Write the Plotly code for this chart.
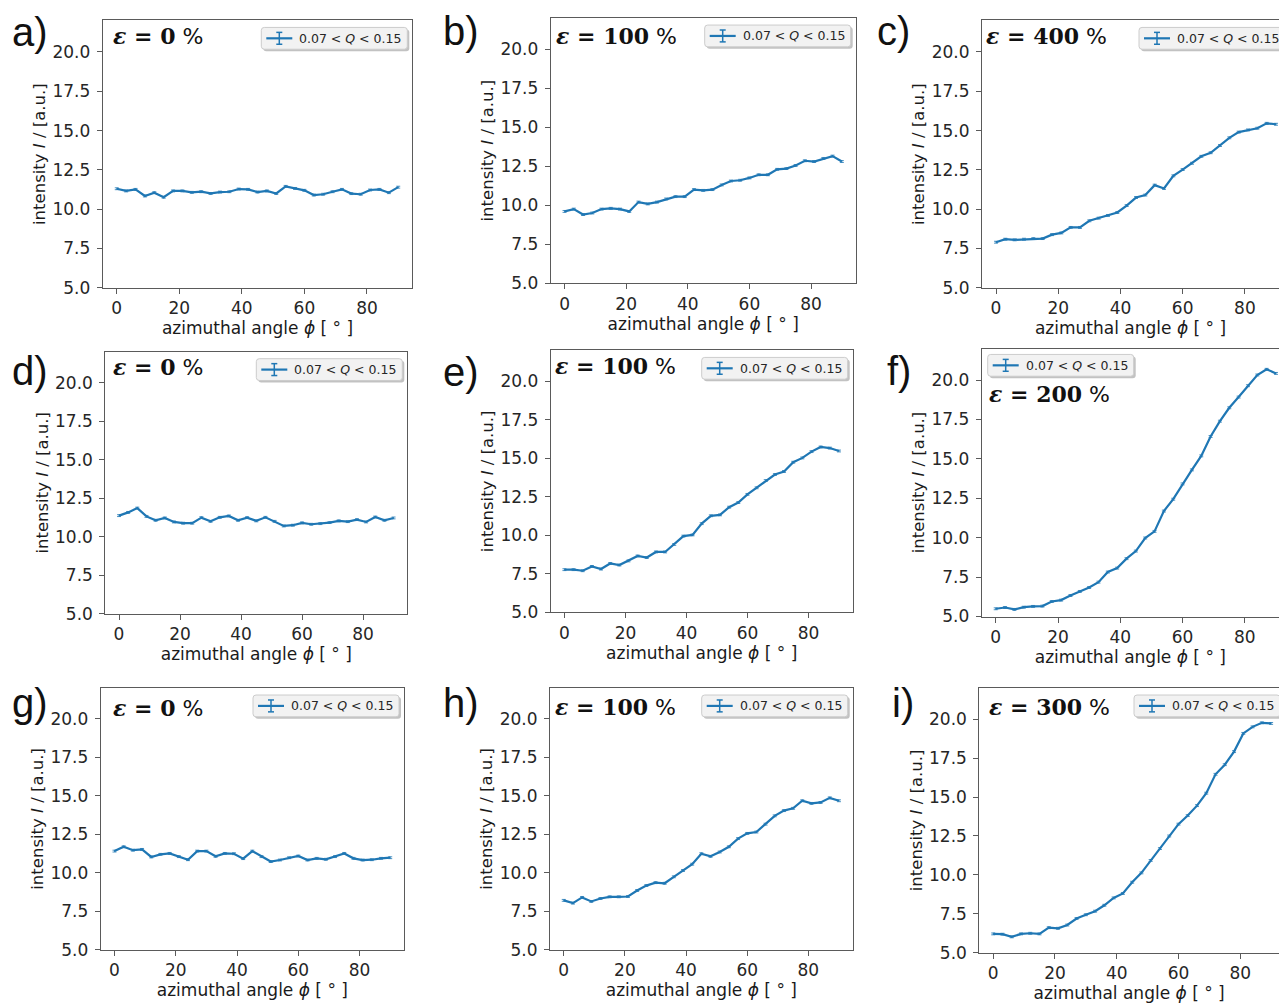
import plotly.graph_objects as go

W, H = 1279, 1007
BLUE = "#1f77b4"

# ---------------- data ----------------
phi = [0, 3, 6, 9, 12, 15, 18, 21, 24, 27, 30, 33, 36, 39, 42, 45, 48, 51, 54, 57,
       60, 63, 66, 69, 72, 75, 78, 81, 84, 87, 90]

int_a = [11.30, 11.16, 11.26, 10.84, 11.05, 10.76, 11.16, 11.16, 11.07, 11.11, 11.00,
         11.09, 11.11, 11.28, 11.26, 11.09, 11.16, 11.00, 11.45, 11.32, 11.20, 10.90,
         10.95, 11.11, 11.26, 10.99, 10.95, 11.22, 11.26, 11.05, 11.40]
int_b = [9.60, 9.75, 9.40, 9.50, 9.75, 9.80, 9.75, 9.60, 10.20, 10.08, 10.20, 10.40,
         10.55, 10.55, 11.00, 10.95, 11.00, 11.30, 11.55, 11.60, 11.75, 11.95, 11.95,
         12.30, 12.35, 12.55, 12.85, 12.80, 13.00, 13.15, 12.80]
int_c = [7.90, 8.09, 8.05, 8.09, 8.13, 8.13, 8.38, 8.49, 8.84, 8.84, 9.26, 9.43, 9.60,
         9.79, 10.23, 10.74, 10.90, 11.53, 11.32, 12.12, 12.52, 12.92, 13.36, 13.59,
         14.05, 14.54, 14.90, 15.04, 15.15, 15.46, 15.40]
int_d = [11.37, 11.58, 11.86, 11.32, 11.07, 11.22, 10.96, 10.88, 10.88, 11.24, 11.00,
         11.26, 11.35, 11.07, 11.24, 11.03, 11.26, 11.00, 10.70, 10.75, 10.90, 10.81,
         10.85, 10.92, 11.03, 10.98, 11.11, 10.96, 11.28, 11.07, 11.22]
int_e = [7.76, 7.76, 7.69, 7.97, 7.80, 8.16, 8.06, 8.33, 8.65, 8.55, 8.91, 8.91, 9.40,
         9.94, 10.02, 10.75, 11.26, 11.32, 11.82, 12.12, 12.65, 13.08, 13.55, 13.94,
         14.14, 14.74, 15.02, 15.43, 15.73, 15.66, 15.47]
int_f = [5.49, 5.57, 5.45, 5.59, 5.64, 5.66, 5.95, 6.04, 6.33, 6.59, 6.84, 7.18, 7.82,
         8.07, 8.67, 9.15, 9.98, 10.40, 11.69, 12.44, 13.41, 14.30, 15.19, 16.42, 17.39,
         18.24, 18.92, 19.64, 20.32, 20.68, 20.42]
int_g = [11.41, 11.69, 11.47, 11.52, 11.03, 11.20, 11.26, 11.05, 10.85, 11.41, 11.41,
         11.07, 11.26, 11.24, 10.92, 11.41, 11.05, 10.73, 10.83, 10.98, 11.09, 10.83,
         10.94, 10.88, 11.05, 11.26, 10.94, 10.83, 10.85, 10.94, 10.98]
int_h = [8.21, 8.03, 8.40, 8.14, 8.33, 8.44, 8.44, 8.46, 8.85, 9.17, 9.36, 9.32, 9.74,
         10.15, 10.56, 11.24, 11.07, 11.35, 11.69, 12.22, 12.56, 12.65, 13.16, 13.70,
         14.04, 14.19, 14.68, 14.51, 14.57, 14.87, 14.68]
int_i = [6.21, 6.19, 6.02, 6.21, 6.25, 6.21, 6.61, 6.57, 6.78, 7.20, 7.44, 7.67, 8.05,
         8.52, 8.81, 9.53, 10.13, 10.93, 11.69, 12.50, 13.26, 13.81, 14.45, 15.25, 16.46,
         17.08, 17.92, 19.09, 19.51, 19.77, 19.73]

panel_letters = ["a)", "b)", "c)", "d)", "e)", "f)", "g)", "h)", "i)"]
strains = ["0", "100", "400", "0", "100", "200", "0", "100", "300"]
series = [int_a, int_b, int_c, int_d, int_e, int_f, int_g, int_h, int_i]
legend_label = "0.07 &lt; <i>Q</i> &lt; 0.15"

x_ticks = [0, 20, 40, 60, 80]
x_ticktext = ["0", "20", "40", "60", "80"]
y_ticks = [5.0, 7.5, 10.0, 12.5, 15.0, 17.5, 20.0]
y_ticktext = ["5.0", "7.5", "10.0", "12.5", "15.0", "17.5", "20.0"]

# ---------------- layout geometry (pixels) ----------------
# axes boxes: left, right (virtual, may exceed canvas), top, bottom
boxes = [
    (102.7, 412.3, 20.7, 290.7),
    (550.7, 855.7, 18.3, 286.0),
    (982.0, 1290.0, 20.7, 290.7),
    (105.3, 407.3, 355.3, 620.0),
    (550.7, 852.7, 354.0, 618.3),
    (981.7, 1290.0, 352.0, 622.7),
    (100.7, 404.0, 695.0, 959.3),
    (550.0, 852.7, 695.0, 959.3),
    (979.3, 1285.0, 695.0, 962.3),
]
eps_pos = [(111, 36), (554, 36), (984, 36), (111, 371), (553, 370), (987, 398),
           (111, 715), (553, 714), (987, 714)]
letter_pos = [(10, 44), (441, 43), (875, 43), (10, 387), (441, 388), (885, 387),
              (10, 722), (441, 722), (890, 722)]
legend_upper_left = [False, False, False, False, False, True, False, False, False]

X0, X1 = -4.5, 94.5


def px(x):
    return x / W


def py(y):
    return 1 - y / H


fig = go.Figure()
layout = {}
shapes = []
annotations = []

axis_common = dict(
    showline=True, linecolor="#5a5a5a", linewidth=1,
    ticks="outside", ticklen=5, tickwidth=1, tickcolor="#5a5a5a",
    showgrid=False, zeroline=False,
    tickfont=dict(family="DejaVu Sans", size=17, color="#262626"),
)


def rounded_rect_path(x0, y0, x1, y1, r):
    pts = []
    pts.append(f"M {px(x0 + r)},{py(y0)}")
    pts.append(f"L {px(x1 - r)},{py(y0)}")
    pts.append(f"Q {px(x1)},{py(y0)} {px(x1)},{py(y0 + r)}")
    pts.append(f"L {px(x1)},{py(y1 - r)}")
    pts.append(f"Q {px(x1)},{py(y1)} {px(x1 - r)},{py(y1)}")
    pts.append(f"L {px(x0 + r)},{py(y1)}")
    pts.append(f"Q {px(x0)},{py(y1)} {px(x0)},{py(y1 - r)}")
    pts.append(f"L {px(x0)},{py(y0 + r)}")
    pts.append(f"Q {px(x0)},{py(y0)} {px(x0 + r)},{py(y0)}")
    pts.append("Z")
    return " ".join(pts)


for k in range(9):
    n = k + 1
    xa = "x" if n == 1 else f"x{n}"
    ya = "y" if n == 1 else f"y{n}"
    xname = "xaxis" if n == 1 else f"xaxis{n}"
    yname = "yaxis" if n == 1 else f"yaxis{n}"
    L, R, T, B = boxes[k]
    vis_r = min(R, W)
    xmax = X0 + (X1 - X0) * (vis_r - L) / (R - L)
    cut = R > W

    fig.add_trace(go.Scatter(
        x=phi, y=series[k], mode="lines", name="0.07 < Q < 0.15",
        line=dict(color=BLUE, width=2.2),
        error_y=dict(type="constant", value=0.06, thickness=0.8, width=2, color=BLUE),
        xaxis=xa, yaxis=ya, showlegend=False,
    ))

    layout[xname] = dict(
        axis_common, domain=[px(L), px(vis_r)], range=[X0, xmax], anchor=ya,
        mirror=True, tickvals=x_ticks, ticktext=x_ticktext,
        title=dict(text="azimuthal angle <i>ϕ</i> [ ° ]",
                   font=dict(family="DejaVu Sans", size=17, color="#1a1a1a"),
                   standoff=4),
    )
    layout[yname] = dict(
        axis_common, domain=[py(B), py(T)], range=[4.999, 22.0], anchor=xa,
        mirror=(not cut), tickvals=y_ticks, ticktext=y_ticktext,
        ticklabelstandoff=3,
        title=dict(text="intensity <i>I</i> / [a.u.]",
                   font=dict(family="DejaVu Sans", size=16.5, color="#1a1a1a"),
                   standoff=2),
    )

    # epsilon label
    ex, ey = eps_pos[k]
    annotations.append(dict(
        x=px(ex), y=py(ey), xref="paper", yref="paper", xanchor="left", yanchor="middle",
        showarrow=False,
        text=(f"<b><i>ε</i> = {strains[k]}</b> "
              f"<span style='font-family:DejaVu Sans'>%</span>"),
        font=dict(family="DejaVu Serif", size=22, color="#111111"),
    ))

    # panel letter
    lx, lb = letter_pos[k]
    annotations.append(dict(
        x=px(lx), y=py(lb - 12), xref="paper", yref="paper", xanchor="left",
        yanchor="middle", showarrow=False, text=panel_letters[k],
        font=dict(family="Liberation Sans", size=40, color="#111111"),
    ))

    # legend box
    bw, bh = 146, 22
    if legend_upper_left[k]:
        bx0 = L + 6
        by0 = T + 6
    else:
        bx0 = R - 5 - bw
        by0 = T + 7
    bx1, by1 = bx0 + bw, by0 + bh
    shapes.append(dict(type="path", xref="paper", yref="paper",
                       path=rounded_rect_path(bx0 + 2, by0 + 2, bx1 + 2, by1 + 2, 3),
                       fillcolor="rgba(120,120,120,0.45)", line=dict(width=0), layer="above"))
    shapes.append(dict(type="path", xref="paper", yref="paper",
                       path=rounded_rect_path(bx0, by0, bx1, by1, 3),
                       fillcolor="#f2f2f2", line=dict(color="#cccccc", width=1), layer="above"))
    cy = (by0 + by1) / 2
    gx0, gx1, gxc = bx0 + 5, bx0 + 31, bx0 + 18
    shapes.append(dict(type="line", xref="paper", yref="paper",
                       x0=px(gx0), x1=px(gx1), y0=py(cy), y1=py(cy),
                       line=dict(color=BLUE, width=2.2), layer="above"))
    shapes.append(dict(type="line", xref="paper", yref="paper",
                       x0=px(gxc), x1=px(gxc), y0=py(cy - 6), y1=py(cy + 6),
                       line=dict(color=BLUE, width=1.5), layer="above"))
    for dy in (-6, 6):
        shapes.append(dict(type="line", xref="paper", yref="paper",
                           x0=px(gxc - 3), x1=px(gxc + 3), y0=py(cy + dy), y1=py(cy + dy),
                           line=dict(color=BLUE, width=1.5), layer="above"))
    annotations.append(dict(
        x=px(bx0 + 36), y=py(cy), xref="paper", yref="paper", xanchor="left",
        yanchor="middle", showarrow=False, text=legend_label,
        font=dict(family="DejaVu Sans", size=12.5, color="#262626"),
    ))

fig.update_layout(
    width=W, height=H, autosize=False,
    margin=dict(l=0, r=0, t=0, b=0),
    paper_bgcolor="white", plot_bgcolor="white",
    shapes=shapes, annotations=annotations, showlegend=False,
    **layout,
)

fig.write_html("out.html", config={"displayModeBar": False},
               post_script="document.body.style.margin='0';document.body.style.overflow='hidden';")
